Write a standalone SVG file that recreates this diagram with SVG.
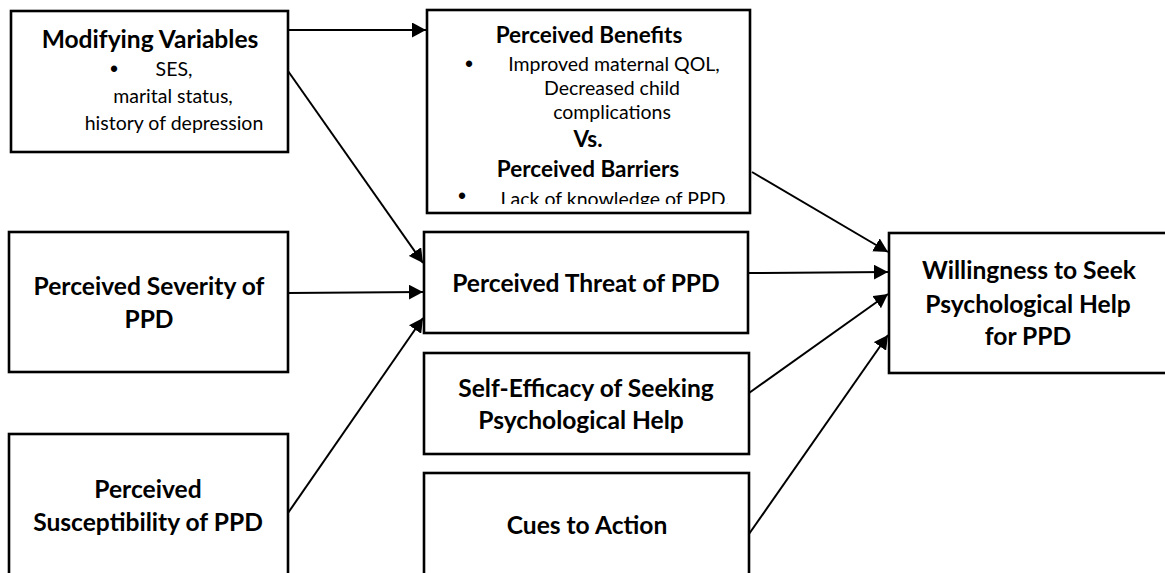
<svg xmlns="http://www.w3.org/2000/svg" width="1165" height="573" viewBox="0 0 1165 573">
<style>
.box{fill:#fff;stroke:#000;stroke-width:2.6}
.t{font-family:Lato,"Liberation Sans",sans-serif;font-weight:bold;font-size:24.6px;fill:#000;text-anchor:middle}
.s{font-family:Lato,"Liberation Sans",sans-serif;font-weight:bold;font-size:22.5px;fill:#000;text-anchor:middle}
.n{font-family:Lato,"Liberation Sans",sans-serif;font-size:19.5px;fill:#000;text-anchor:middle}
.b{font-family:"Liberation Sans",sans-serif;font-size:23px;fill:#000;text-anchor:middle}
.c{stroke:#000;stroke-width:2;fill:none;marker-end:url(#ah)}
</style>
<defs>
<marker id="ah" markerUnits="userSpaceOnUse" markerWidth="15" markerHeight="15" refX="14" refY="7.5" orient="auto">
<path d="M0,0 L14,7.5 L0,15 z" fill="#000"/>
</marker>
<clipPath id="clipBen"><rect x="427" y="10" width="323" height="194"/></clipPath>
</defs>
<rect width="1165" height="573" fill="#fff"/>
<g id="modifying">
<rect class="box" x="11" y="11" width="277" height="141"/>
<text class="t" x="150" y="48">Modifying Variables</text>
<text class="b" x="114" y="77">•</text>
<text class="n" x="174" y="76">SES,</text>
<text class="n" x="173" y="103">marital status,</text>
<text class="n" x="174" y="130">history of depression</text>
</g>
<g id="benefits">
<rect class="box" x="427" y="10" width="323" height="203"/>
<g clip-path="url(#clipBen)">
<text class="s" x="589" y="43">Perceived Benefits</text>
<text class="b" x="469" y="72">•</text>
<text class="n" x="614" y="71">Improved maternal QOL,</text>
<text class="n" x="612" y="95">Decreased child</text>
<text class="n" x="612" y="119">complications</text>
<text class="s" x="588" y="147">Vs.</text>
<text class="s" x="588" y="177">Perceived Barriers</text>
<text class="b" x="462" y="204">•</text>
<text class="n" x="615" y="206">Lack of knowledge of PPD,</text>
</g>
</g>
<g id="severity">
<rect class="box" x="9" y="232" width="279" height="140"/>
<text class="t" x="149" y="295">Perceived Severity of</text>
<text class="t" x="149" y="328">PPD</text>
</g>
<g id="susceptibility">
<rect class="box" x="9" y="434" width="279" height="160"/>
<text class="t" x="148" y="498">Perceived</text>
<text class="t" x="148" y="531">Susceptibility of PPD</text>
</g>
<g id="threat">
<rect class="box" x="424" y="232" width="324" height="101"/>
<text class="t" x="586" y="292">Perceived Threat of PPD</text>
</g>
<g id="selfefficacy">
<rect class="box" x="424" y="353" width="325" height="101"/>
<text class="t" x="586" y="397">Self-Efficacy of Seeking</text>
<text class="t" x="581" y="429">Psychological Help</text>
</g>
<g id="cues">
<rect class="box" x="424" y="473" width="325" height="120"/>
<text class="t" x="587" y="534">Cues to Action</text>
</g>
<g id="willingness">
<rect class="box" x="889" y="233" width="290" height="140"/>
<text class="t" x="1029" y="279">Willingness to Seek</text>
<text class="t" x="1028" y="313">Psychological Help</text>
<text class="t" x="1028" y="345">for PPD</text>
</g>
<g id="connectors">
<line class="c" x1="288" y1="30" x2="426" y2="30"/>
<line class="c" x1="288" y1="71" x2="423" y2="263"/>
<line class="c" x1="288" y1="293" x2="423" y2="292"/>
<line class="c" x1="288" y1="513" x2="423" y2="318"/>
<line class="c" x1="752" y1="172" x2="888" y2="252"/>
<line class="c" x1="748" y1="273" x2="888" y2="272"/>
<line class="c" x1="749" y1="393" x2="888" y2="294"/>
<line class="c" x1="749" y1="534" x2="888" y2="335"/>
</g>
</svg>
